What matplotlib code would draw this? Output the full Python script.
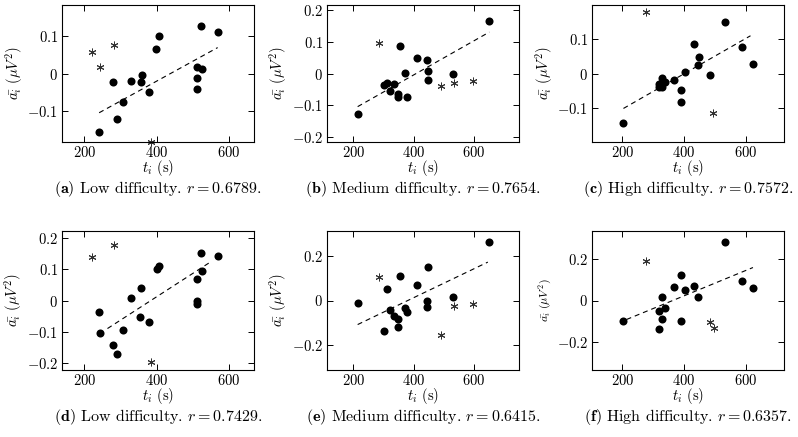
import numpy as np
import matplotlib
matplotlib.use('Agg')
import matplotlib.pyplot as plt
from matplotlib.ticker import FuncFormatter

plt.rcParams['font.family'] = 'serif'
plt.rcParams['font.serif'] = ['cmr10']
plt.rcParams['mathtext.fontset'] = 'cm'
plt.rcParams['axes.formatter.use_mathtext'] = True
plt.rcParams['axes.unicode_minus'] = False

# ---- data (t_i in s, a_i in uV^2) ----
# (a) low difficulty, top row
a_dot_t = [241, 280, 290, 308, 329, 356, 359, 379, 399, 407, 512, 512, 513, 523, 527, 569]
a_dot_v = [-0.159, -0.024, -0.123, -0.076, -0.019, -0.023, -0.004, -0.049, 0.067, 0.100,
           0.017, -0.011, -0.043, 0.128, 0.012, 0.111]
a_star_t = [220, 243, 283, 384]
a_star_v = [0.058, 0.018, 0.077, -0.185]

# (b) medium difficulty, top row
b_dot_t = [214, 355, 303, 312, 334, 322, 348, 348, 378, 373, 411, 446, 449, 449, 530, 652]
b_dot_v = [-0.127, 0.085, -0.036, -0.030, -0.033, -0.055, -0.064, -0.073, -0.074, 0.003,
           0.049, 0.041, 0.008, -0.020, -0.001, 0.164]
b_star_t = [285, 492, 535, 597]
b_star_v = [0.096, -0.038, -0.030, -0.024]

# (c) high difficulty, top row
c_dot_t = [204, 532, 434, 448, 447, 404, 369, 328, 339, 318, 318, 328, 390, 390, 486, 588, 624]
c_dot_v = [-0.142, 0.147, 0.084, 0.047, 0.025, 0.005, -0.020, -0.012, -0.025, -0.029,
           -0.038, -0.038, -0.047, -0.081, -0.005, 0.077, 0.028]
c_star_t = [277, 496]
c_star_v = [0.175, -0.112]

# (d) low difficulty, bottom row
d_dot_t = [240, 243, 280, 291, 308, 330, 358, 355, 379, 401, 407, 512, 512, 512, 522, 527, 569]
d_dot_v = [-0.038, -0.105, -0.142, -0.173, -0.095, 0.009, 0.041, -0.053, -0.069, 0.102,
           0.111, 0.068, -0.002, -0.010, 0.154, 0.095, 0.143]
d_star_t = [220, 283, 384]
d_star_v = [0.141, 0.178, -0.198]

# (e) medium difficulty, bottom row
e_dot_t = [214, 311, 322, 354, 303, 334, 348, 348, 373, 378, 411, 449, 446, 445, 530, 652]
e_dot_v = [-0.012, 0.052, -0.041, 0.112, -0.136, -0.071, -0.082, -0.121, -0.032, -0.053,
           0.071, 0.152, -0.003, -0.029, 0.017, 0.265]
e_star_t = [285, 492, 535, 597]
e_star_v = [0.105, -0.158, -0.024, -0.014]

# (f) high difficulty, bottom row
f_dot_t = [204, 532, 390, 369, 404, 434, 447, 328, 339, 318, 328, 318, 390, 588, 624]
f_dot_v = [-0.098, 0.282, 0.120, 0.066, 0.050, 0.070, 0.018, 0.019, -0.035, -0.050,
           -0.091, -0.136, -0.099, 0.094, 0.059]
f_star_t = [277, 486, 499]
f_star_v = [0.189, -0.102, -0.133]

# dashed trend lines: (t start, t end, value start, value end)
trend = {
    'a': (241, 569, -0.106, 0.070),
    'b': (214, 652, -0.104, 0.130),
    'c': (204, 616, -0.100, 0.108),
    'd': (264, 547, -0.090, 0.122),
    'e': (214, 647, -0.109, 0.174),
    'f': (214, 624, -0.091, 0.158),
}

letters = ['a', 'b', 'c', 'd', 'e', 'f']
levels = ['Low', 'Medium', 'High', 'Low', 'Medium', 'High']
r_values = ['0.6789', '0.7654', '0.7572', '0.7429', '0.6415', '0.6357']
xlims = [(139, 669), (113, 750), (103, 724), (139, 669), (113, 750), (103, 724)]
ylims = [0.185, 0.215, 0.196, 0.223, 0.315, 0.333]
yticks = [[-0.1, 0, 0.1], [-0.2, -0.1, 0, 0.1, 0.2], [-0.1, 0, 0.1],
          [-0.2, -0.1, 0, 0.1, 0.2], [-0.2, 0, 0.2], [-0.2, 0, 0.2]]

dots = [(a_dot_t, a_dot_v), (b_dot_t, b_dot_v), (c_dot_t, c_dot_v),
        (d_dot_t, d_dot_v), (e_dot_t, e_dot_v), (f_dot_t, f_dot_v)]
stars = [(a_star_t, a_star_v), (b_star_t, b_star_v), (c_star_t, c_star_v),
         (d_star_t, d_star_v), (e_star_t, e_star_v), (f_star_t, f_star_v)]

W, H = 798, 437
fig = plt.figure(figsize=(W / 100, H / 100), dpi=100)

col_left = [62.3, 327.3, 592.3]
col_w = 191.5
row_top = [5, 231]
row_h = [137, 139]

fmt = FuncFormatter(lambda v, p: f'${v:g}$')

for i, key in enumerate(letters):
    r, c = divmod(i, 3)
    ax = fig.add_axes([col_left[c] / W, 1 - (row_top[r] + row_h[r]) / H,
                       col_w / W, row_h[r] / H])
    t0, t1, v0, v1 = trend[key]
    ax.plot([t0, t1], [v0, v1], color='black', lw=0.8, dashes=(4.5, 3.5))
    ax.plot(dots[i][0], dots[i][1], 'o', color='black', ms=5.8, mew=0, clip_on=False)
    ax.plot(stars[i][0], stars[i][1], marker=(6, 2, 0), ls='none', color='#333333',
            ms=5.5, mew=0.7, clip_on=False)

    ax.set_xlim(*xlims[i])
    ax.set_ylim(-ylims[i], ylims[i])
    ax.set_xticks([200, 400, 600])
    ax.set_yticks(yticks[i])
    ax.xaxis.set_major_formatter(fmt)
    ax.yaxis.set_major_formatter(fmt)
    ax.tick_params(direction='in', top=True, right=True, length=4.5, width=0.7,
                   labelsize=10.5, pad=3)
    ax.tick_params(axis='x', pad=2)
    for sp in ax.spines.values():
        sp.set_linewidth(0.8)

    ax.set_xlabel(r'$t_i$ (s)', fontsize=10.5, labelpad=-1)
    ax.set_ylabel(r'$\bar{a_i}\ (\mu V^2)$', fontsize=8.5 if key == 'f' else 10.5,
                  labelpad=2)

    cap_y = 1 - (row_top[r] + row_h[r] + 47) / H
    fig.text((col_left[c] + col_w / 2) / W, cap_y,
             r'$\mathbf{(%s)}$ %s difficulty. $r = %s$.' % (key, levels[i], r_values[i]),
             ha='center', va='center', fontsize=11.5)

fig.savefig('out.png', dpi=100)
